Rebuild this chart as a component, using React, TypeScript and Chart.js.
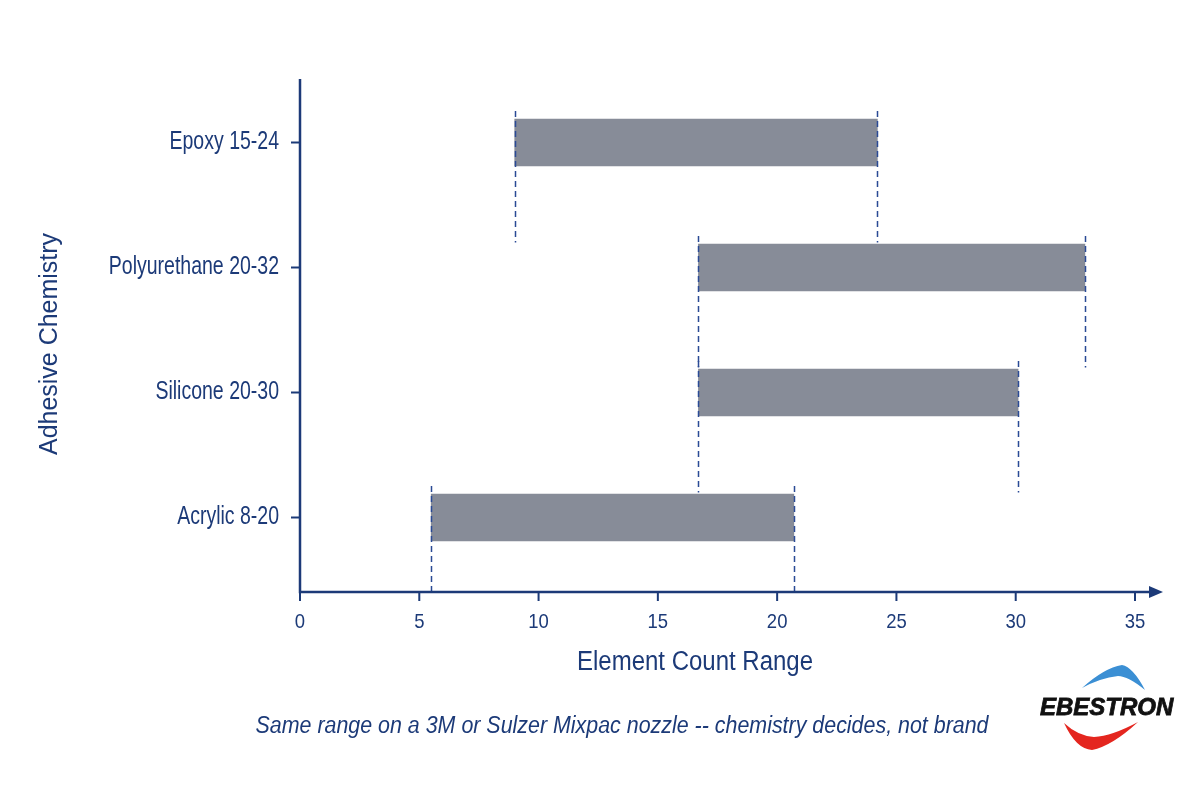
import React, { useEffect, useRef } from "react";
import { Chart, registerables } from "chart.js";

Chart.register(...registerables);

const categories = ["Epoxy 15-24", "Polyurethane 20-32", "Silicone 20-30", "Acrylic 8-20"];
const rangeStart = [9.0, 16.7, 16.7, 5.5];
const rangeEnd = [24.2, 32.9, 30.1, 20.7];
const xTicks = [0, 5, 10, 15, 20, 25, 30, 35];

const NAVY = "#1c3a78";
const BAR = "#878c98";
const SANS = "'Liberation Sans', Arial, sans-serif";

function condText(
  ctx: CanvasRenderingContext2D,
  text: string,
  x: number,
  y: number,
  font: string,
  sx: number,
  align: CanvasTextAlign
) {
  ctx.save();
  ctx.font = font;
  ctx.textAlign = align;
  ctx.textBaseline = "middle";
  ctx.translate(x, y);
  ctx.scale(sx, 1);
  ctx.fillText(text, 0, 0);
  ctx.restore();
}

function fitText(
  ctx: CanvasRenderingContext2D,
  text: string,
  x: number,
  y: number,
  font: string,
  width: number
) {
  ctx.save();
  ctx.font = font;
  const w = ctx.measureText(text).width;
  condText(ctx, text, x, y, font, width / w, "center");
  ctx.restore();
}

const decorPlugin = {
  id: "decor",
  afterDatasetsDraw(chart: any) {
    const { ctx, chartArea, scales } = chart;
    const xs = scales.x;
    const ys = scales.y;
    const axisY = chartArea.bottom + 12;
    const axisX = chartArea.left;
    ctx.save();
    // dashed guide lines at range ends
    ctx.strokeStyle = "#2a4a95";
    ctx.lineWidth = 1.5;
    ctx.setLineDash([6, 4]);
    for (let i = 0; i < categories.length; i++) {
      const cy = ys.getPixelForValue(i);
      const top = cy - 23.5 - 8;
      const bottom = Math.min(cy + 100, axisY);
      [rangeStart[i], rangeEnd[i]].forEach((v) => {
        const px = Math.round(xs.getPixelForValue(v)) + 0.5;
        ctx.beginPath();
        ctx.moveTo(px, top);
        ctx.lineTo(px, bottom);
        ctx.stroke();
      });
    }
    ctx.setLineDash([]);
    // axes
    ctx.strokeStyle = NAVY;
    ctx.fillStyle = NAVY;
    ctx.lineWidth = 2.5;
    ctx.beginPath();
    ctx.moveTo(axisX, chartArea.top - 1);
    ctx.lineTo(axisX, axisY);
    ctx.lineTo(xs.right + 18, axisY);
    ctx.stroke();
    ctx.beginPath();
    ctx.moveTo(xs.right + 28, axisY);
    ctx.lineTo(xs.right + 14, axisY - 6);
    ctx.lineTo(xs.right + 14, axisY + 6);
    ctx.closePath();
    ctx.fill();
    // tick marks + labels
    ctx.lineWidth = 2;
    xTicks.forEach((t) => {
      const px = xs.getPixelForValue(t);
      ctx.beginPath();
      ctx.moveTo(px, axisY);
      ctx.lineTo(px, axisY + 9);
      ctx.stroke();
      condText(ctx, String(t), px, axisY + 30, `21px ${SANS}`, 0.88, "center");
    });
    for (let i = 0; i < categories.length; i++) {
      const cy = ys.getPixelForValue(i);
      ctx.beginPath();
      ctx.moveTo(axisX - 9, cy);
      ctx.lineTo(axisX, cy);
      ctx.stroke();
      condText(ctx, categories[i], axisX - 21, cy, `25px ${SANS}`, 0.78, "right");
    }
    // axis titles
    fitText(ctx, "Element Count Range", 695, 663, `27px ${SANS}`, 236);
    ctx.save();
    ctx.translate(50, 344);
    ctx.rotate(-Math.PI / 2);
    fitText(ctx, "Adhesive Chemistry", 0, 0, `26px ${SANS}`, 222);
    ctx.restore();
    // footer
    fitText(
      ctx,
      "Same range on a 3M or Sulzer Mixpac nozzle -- chemistry decides, not brand",
      622,
      727,
      `italic 23px ${SANS}`,
      733
    );
    // logo
    ctx.fillStyle = "#3b8fd4";
    ctx.beginPath();
    ctx.moveTo(1082, 688);
    ctx.quadraticCurveTo(1104, 668, 1122, 665);
    ctx.quadraticCurveTo(1133, 667, 1145, 690);
    ctx.quadraticCurveTo(1128, 676, 1118, 676);
    ctx.quadraticCurveTo(1100, 678, 1082, 688);
    ctx.fill();
    ctx.fillStyle = "#e4261f";
    ctx.beginPath();
    ctx.moveTo(1064, 723);
    ctx.quadraticCurveTo(1076, 749, 1092, 750);
    ctx.quadraticCurveTo(1112, 746, 1138, 722);
    ctx.quadraticCurveTo(1112, 736, 1094, 737);
    ctx.quadraticCurveTo(1078, 736, 1064, 723);
    ctx.fill();
    ctx.fillStyle = "#111111";
    ctx.font = `bold italic 24px ${SANS}`;
    ctx.textAlign = "left";
    ctx.textBaseline = "alphabetic";
    ctx.lineWidth = 0.8;
    ctx.strokeStyle = "#111111";
    ctx.fillText("EBESTRON", 1040, 715);
    ctx.strokeText("EBESTRON", 1040, 715);
    ctx.restore();
  },
};

export default function App() {
  const ref = useRef<HTMLCanvasElement | null>(null);
  useEffect(() => {
    if (!ref.current) return;
    const chart = new Chart(ref.current, {
      type: "bar",
      data: {
        labels: categories,
        datasets: [
          {
            data: categories.map((_, i) => [rangeStart[i], rangeEnd[i]]) as any,
            backgroundColor: BAR,
            borderWidth: 0,
            barThickness: 47,
          },
        ],
      },
      options: {
        indexAxis: "y",
        animation: false,
        responsive: false,
        layout: { padding: { top: 80, right: 65, bottom: 220, left: 0 } },
        plugins: { legend: { display: false }, tooltip: { enabled: false } },
        scales: {
          x: {
            type: "linear",
            min: 0,
            max: 35,
            grid: { display: false },
            border: { display: false },
            ticks: { display: false },
            afterFit: (s: any) => {
              s.height = 0;
            },
          },
          y: {
            type: "category",
            grid: { display: false },
            border: { display: false },
            ticks: { display: false },
            afterFit: (s: any) => {
              s.width = 300;
            },
          },
        },
      },
      plugins: [decorPlugin],
    });
    return () => chart.destroy();
  }, []);
  return (
    <div style={{ position: "absolute", left: 0, top: 0, width: 1200, height: 800, background: "#fff" }}>
      <canvas ref={ref} width={1200} height={800} />
    </div>
  );
}
